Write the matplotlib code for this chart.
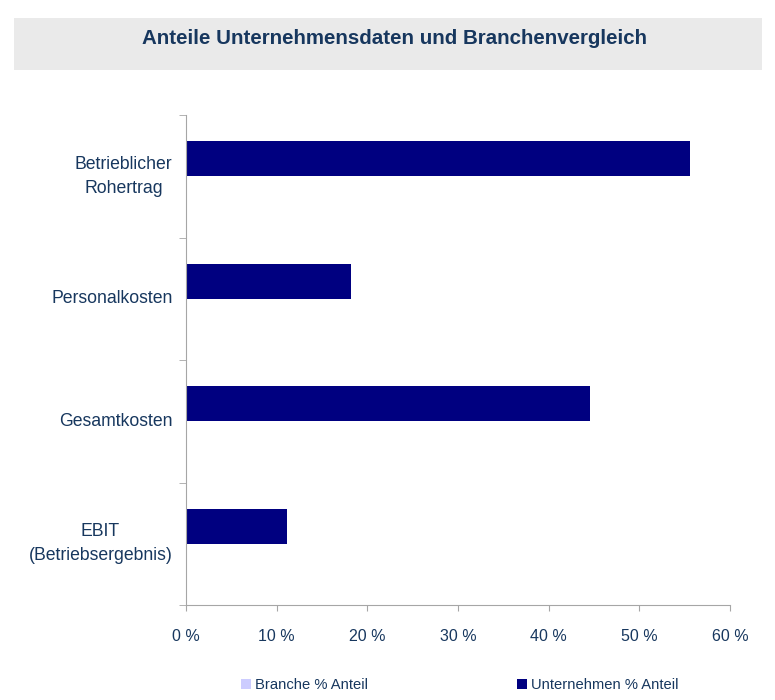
import numpy as np
import matplotlib.pyplot as plt
from matplotlib.patches import Rectangle

categories = ["Betrieblicher\nRohertrag", "Personalkosten", "Gesamtkosten", "EBIT\n(Betriebsergebnis)"]
branche = [0.0, 0.0, 0.0, 0.0]
unternehmen = [55.6, 18.2, 44.6, 11.1]
xticks = [0, 10, 20, 30, 40, 50, 60]

text_col = "#17375E"
axis_col = "#A6A6A6"

plt.rcParams["font.family"] = ["Liberation Sans", "DejaVu Sans"]

fig = plt.figure(figsize=(7.75, 7.0), dpi=100)

# grey title box
fig.patches.append(Rectangle((14 / 775, 1 - 70 / 700), (762 - 14) / 775, 52 / 700,
                             transform=fig.transFigure, facecolor="#EAEAEA",
                             edgecolor="none", zorder=0))
fig.text(395 / 775, 1 - 38 / 700, "Anteile Unternehmensdaten und Branchenvergleich",
         ha="center", va="center", fontsize=14.75, fontweight="bold", color=text_col)

ax = fig.add_axes([186 / 775, 1 - 605 / 700, (730 - 186) / 775, (605 - 115) / 700])

y = np.arange(len(categories))
h = 0.286
b1 = ax.barh(y + h / 2, branche, height=h, color="#CCCCFF", label="Branche % Anteil")
b2 = ax.barh(y - h / 2, unternehmen, height=h, color="#000080", label="Unternehmen % Anteil")

ax.set_xlim(0, 60)
ax.set_ylim(len(categories) - 0.5, -0.5)

ax.set_xticks(xticks)
ax.set_xticklabels([f"{v} %" for v in xticks])
ax.set_yticks(y)
ax.set_yticklabels(categories, multialignment="center", linespacing=1.55, va="center")
ax.set_yticks(np.arange(len(categories) + 1) - 0.5, minor=True)

ax.tick_params(axis="y", which="major", length=0, pad=9.8, labelsize=12.7, labelcolor=text_col)
ax.tick_params(axis="y", which="minor", length=5, color=axis_col, direction="out")
ax.tick_params(axis="x", length=4, color=axis_col, pad=13, labelsize=11.5, labelcolor=text_col)

for s in ["top", "right"]:
    ax.spines[s].set_visible(False)
for s in ["left", "bottom"]:
    ax.spines[s].set_color(axis_col)

fig.legend(handles=[b1, b2], loc="center", bbox_to_anchor=(460 / 775, 1 - 685 / 700),
           ncol=2, frameon=False, fontsize=10.6, labelcolor=text_col,
           handlelength=0.65, handleheight=0.65, handletextpad=0.3, columnspacing=10.1)

fig.savefig("out.png", dpi=100)
